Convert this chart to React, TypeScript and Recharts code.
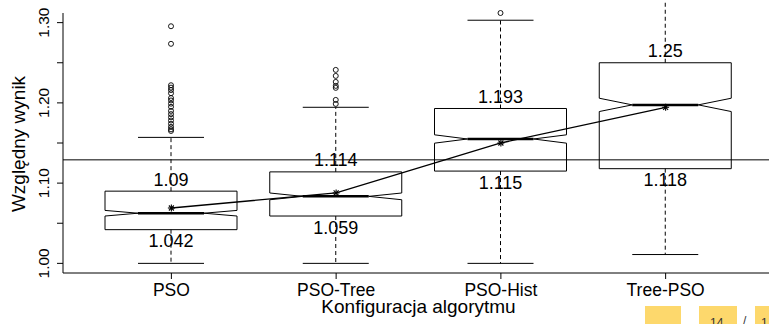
import React from "react";
import {
  ComposedChart,
  Bar,
  Line,
  XAxis,
  YAxis,
  ReferenceLine,
} from "recharts";

const FONT = "'Liberation Sans', Arial, sans-serif";

const configs = ["PSO", "PSO-Tree", "PSO-Hist", "Tree-PSO"];
const lowerQuartiles = [1.042, 1.059, 1.115, 1.118];
const upperQuartiles = [1.09, 1.114, 1.193, 1.25];
const medians = [1.0625, 1.0835, 1.155, 1.1975];
const notchHalfWidths = [0.0035, 0.0042, 0.0052, 0.0083];
const whiskerLows = [1.0, 1.0, 1.0, 1.011];
const whiskerHighs = [1.157, 1.1945, 1.303, 1.33];
const means = [1.069, 1.0878, 1.15, 1.1945];
const outliers = [
  [
    1.2955, 1.2736, 1.222, 1.219, 1.216, 1.212, 1.206, 1.203, 1.199, 1.195,
    1.19, 1.186, 1.182, 1.178, 1.174, 1.17, 1.167, 1.165,
  ],
  [1.2411, 1.2336, 1.2261, 1.2212, 1.2187, 1.2037, 1.1987],
  [1.312],
  [],
];
const yTicks = [1.0, 1.05, 1.1, 1.15, 1.2, 1.25, 1.3];
const referenceValue = 1.129;

const data = configs.map((name, i) => ({
  name,
  box: [lowerQuartiles[i], upperQuartiles[i]],
  q1: lowerQuartiles[i],
  q3: upperQuartiles[i],
  median: medians[i],
  notch: notchHalfWidths[i],
  lo: whiskerLows[i],
  hi: whiskerHighs[i],
  mean: means[i],
  outliers: outliers[i],
}));

function BoxShape(props: any) {
  const { x, y, width, height, payload } = props;
  if (!payload) return null;
  const top = Math.min(y, y + height);
  const h = Math.abs(height);
  const k = h / (payload.q3 - payload.q1);
  const py = (v: number) => top + (payload.q3 - v) * k;
  const xl = x;
  const xr = x + width;
  const cx = x + width / 2;
  const ndx = width / 4;
  const cap = width / 4;
  const yTop = py(payload.q3);
  const yBot = py(payload.q1);
  const yMed = py(payload.median);
  const yNu = py(payload.median + payload.notch);
  const yNd = py(payload.median - payload.notch);
  const yLo = py(payload.lo);
  const yHi = py(payload.hi);
  const pts = [
    [xl, yTop],
    [xr, yTop],
    [xr, yNu],
    [xr - ndx, yMed],
    [xr, yNd],
    [xr, yBot],
    [xl, yBot],
    [xl, yNd],
    [xl + ndx, yMed],
    [xl, yNu],
  ]
    .map((p) => p.join(","))
    .join(" ");
  return (
    <g>
      <line x1={cx} x2={cx} y1={yTop} y2={yHi} stroke="#000" strokeDasharray="4 3" />
      <line x1={cx} x2={cx} y1={yBot} y2={yLo} stroke="#000" strokeDasharray="4 3" />
      <line x1={cx - cap} x2={cx + cap} y1={yHi} y2={yHi} stroke="#000" />
      <line x1={cx - cap} x2={cx + cap} y1={yLo} y2={yLo} stroke="#000" />
      <polygon points={pts} fill="none" stroke="#000" strokeWidth={1} />
      <line x1={xl + ndx} x2={xr - ndx} y1={yMed} y2={yMed} stroke="#000" strokeWidth={2.5} />
      {payload.outliers.map((v: number, j: number) => (
        <circle key={j} cx={cx} cy={py(v)} r={2.5} fill="none" stroke="#000" strokeWidth={0.9} />
      ))}
      <text x={cx} y={yTop - 5.5} textAnchor="middle" fontSize={18} fontFamily={FONT} fill="#000">
        {String(payload.q3)}
      </text>
      <text x={cx} y={yBot + 17.5} textAnchor="middle" fontSize={18} fontFamily={FONT} fill="#000">
        {String(payload.q1)}
      </text>
    </g>
  );
}

function StarDot(props: any) {
  const { cx, cy } = props;
  if (cx == null || cy == null) return null;
  const r = 3.5;
  const d = 2.5;
  return (
    <g stroke="#000" strokeWidth={1.1}>
      <line x1={cx - r} x2={cx + r} y1={cy} y2={cy} />
      <line x1={cx} x2={cx} y1={cy - r} y2={cy + r} />
      <line x1={cx - d} x2={cx + d} y1={cy - d} y2={cy + d} />
      <line x1={cx - d} x2={cx + d} y1={cy + d} y2={cy - d} />
    </g>
  );
}

function XTick(props: any) {
  const { x, y, payload } = props;
  return (
    <text x={x} y={y + 15} textAnchor="middle" fontSize={17.5} fontFamily={FONT} fill="#000">
      {payload.value}
    </text>
  );
}

function YTick(props: any) {
  const { x, y, payload } = props;
  const v = payload.value as number;
  if (Math.round(v * 100) % 10 !== 0) return <g />;
  const bx = x - 6;
  return (
    <text
      x={bx}
      y={y}
      transform={`rotate(-90, ${bx}, ${y})`}
      textAnchor="middle"
      fontSize={15.5}
      fontFamily={FONT}
      fill="#000"
    >
      {v.toFixed(2)}
    </text>
  );
}

function XTitle(props: any) {
  const { viewBox } = props;
  return (
    <text
      x={viewBox.x + viewBox.width / 2}
      y={viewBox.y + 40}
      textAnchor="middle"
      fontSize={19}
      fontFamily={FONT}
      fill="#000"
    >
      Konfiguracja algorytmu
    </text>
  );
}

function YTitle(props: any) {
  const { viewBox } = props;
  const tx = 25;
  const ty = viewBox.y + viewBox.height / 2 + 1;
  return (
    <text
      x={tx}
      y={ty}
      transform={`rotate(-90, ${tx}, ${ty})`}
      textAnchor="middle"
      fontSize={19}
      fontFamily={FONT}
      fill="#000"
    >
      Względny wynik
    </text>
  );
}

const footBox: React.CSSProperties = {
  position: "absolute",
  top: 306,
  height: 18,
  background: "#fdd86c",
};

const footText: React.CSSProperties = {
  position: "absolute",
  top: 10,
  fontSize: 12,
  fontFamily: FONT,
  color: "#333",
};

export default function App() {
  return (
    <div
      style={{
        position: "absolute",
        left: 0,
        top: 0,
        width: 769,
        height: 324,
        overflow: "hidden",
        background: "#fff",
      }}
    >
      <ComposedChart
        width={790}
        height={324}
        data={data}
        margin={{ top: 13, right: 16, left: 0, bottom: 0 }}
      >
        <XAxis
          dataKey="name"
          height={51}
          padding={{ left: 26, right: 26 }}
          axisLine={{ stroke: "#000" }}
          tickLine={{ stroke: "#000" }}
          tickSize={6}
          tick={<XTick />}
          interval={0}
          label={<XTitle />}
        />
        <XAxis
          xAxisId="frame"
          orientation="top"
          dataKey="name"
          height={0}
          axisLine={{ stroke: "#000" }}
          tick={false}
          tickLine={false}
        />
        <YAxis
          width={63}
          domain={[0.988, 1.312]}
          ticks={yTicks}
          axisLine={{ stroke: "#000" }}
          tickLine={{ stroke: "#000" }}
          tickSize={6}
          tick={<YTick />}
          interval={0}
          label={<YTitle />}
        />
        <Bar dataKey="box" barSize={132} shape={<BoxShape />} isAnimationActive={false} />
        <ReferenceLine y={referenceValue} stroke="#000" strokeWidth={1} />
        <Line
          dataKey="mean"
          stroke="#000"
          strokeWidth={1.3}
          dot={<StarDot />}
          activeDot={false}
          isAnimationActive={false}
        />
      </ComposedChart>
      <div style={{ ...footBox, left: 645, width: 36 }} />
      <div style={{ ...footBox, left: 699, width: 38, overflow: "hidden" }}>
        <span style={{ ...footText, left: 11 }}>14</span>
      </div>
      <span style={{ ...footText, left: 743, top: 314 }}>/</span>
      <div style={{ ...footBox, left: 755, width: 20, overflow: "hidden" }}>
        <span style={{ ...footText, left: 6 }}>1</span>
      </div>
    </div>
  );
}
